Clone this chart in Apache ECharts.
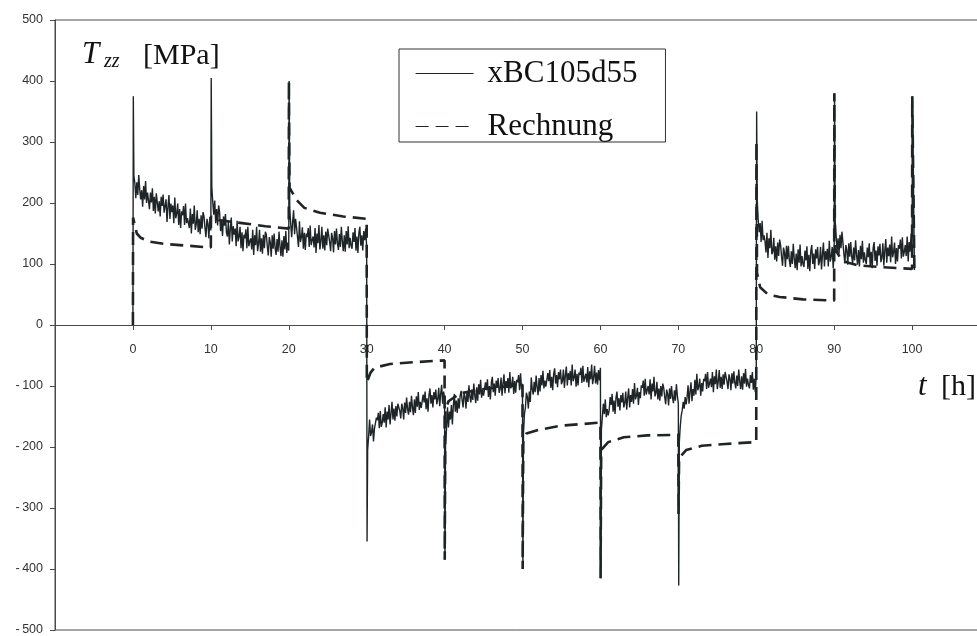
<!DOCTYPE html>
<html>
<head>
<meta charset="utf-8">
<script src="https://cdn.jsdelivr.net/npm/echarts@6/dist/echarts.min.js"></script>
<style>
html,body{margin:0;padding:0;background:#fff;}
#chart{width:977px;height:636px;}
</style>
</head>
<body>
<div id="chart"></div>
<script>
// ---- data ----
const seriesNames = ['xBC105d55', 'Rechnung'];
const sampleStep = 0.125;             // hours between measured samples
const segStart = [0, 10, 20, 30, 40, 50, 60, 70, 80, 90];
const spikePeak = [375, 405, 400, -355, -385, -400, -415, -427, 350, 380];
const meas0 = [245,232,208,234,213,246,222,206, 221,194,228,206,236,200,217,204, 190,217,201,224,187,210,183,216, 217,186,203,178,210,195,214,184,
  182,206,169,194,213,174,199,185, 196,167,209,175,183,199,164,190, 159,186,180,195,164,199,167,175, 177,159,191,150,182,166,196,156,
  165,188,152,174,149,180,158,185, 178,159,144,174,166,142,177,155];
const meas1 = [226,201,181,204,167,190,163,196, 185,154,171,146,178,163,182,152, 145,169,132,157,176,137,162,148, 158,129,171,137,145,161,126,152,
  121,148,142,157,126,161,129,137, 142,124,156,115,147,131,161,121, 133,156,120,142,117,148,126,153, 148,129,114,144,136,112,147,125,
  150,126,115,141,120,153,129,113, 139,112,146,124,154,118,135,122];
const meas2 = [192,166,144,169,188,149,174,160, 157,128,170,136,144,160,125,151, 123,150,144,159,128,163,131,139, 145,127,159,118,150,134,164,124,
  138,161,125,147,122,153,131,158, 155,136,121,151,143,119,154,132, 158,134,123,149,128,161,137,121, 147,120,154,132,162,126,143,130,
  125,152,136,159,122,145,118,151, 161,130,147,122,154,139,158,128];
const meas3 = [-205,-183,-155,-182,-176,-163,-191,-170, -173,-152,-156,-144,-169,-141,-167,-160, -146,-160,-135,-168,-142,-155,-131,-163,
  -145,-126,-155,-137,-157,-133,-150,-129, -126,-141,-153,-129,-136,-155,-127,-144, -119,-138,-147,-126,-143,-116,-135,-148,
  -122,-144,-117,-134,-110,-139,-126,-136, -136,-114,-127,-109,-138,-120,-142,-115, -104,-129,-115,-135,-110,-122,-106,-130,
  -122,-103,-133,-113,-98,-129,-109,-120];
const meas4 = [-192,-170,-135,-168,-142,-155,-131,-163, -132,-113,-142,-124,-144,-120,-137,-116, -108,-123,-135,-111,-118,-137,-109,-126,
  -99,-118,-127,-106,-123,-96,-115,-128, -102,-124,-97,-114,-90,-119,-106,-116, -116,-94,-107,-89,-118,-100,-122,-95,
  -85,-110,-96,-116,-91,-103,-87,-111, -105,-86,-116,-96,-81,-112,-92,-103, -87,-111,-77,-104,-98,-85,-113,-92,
  -111,-90,-94,-82,-107,-79,-105,-98];
const meas5 = [-178,-146,-135,-111,-118,-137,-109,-126, -86,-105,-114,-93,-110,-83,-102,-115, -87,-109,-82,-99,-75,-104,-91,-101,
  -101,-79,-92,-74,-103,-85,-107,-80, -71,-96,-82,-102,-77,-89,-73,-97, -92,-73,-103,-83,-68,-99,-79,-90,
  -75,-99,-65,-92,-86,-73,-101,-80, -99,-78,-82,-70,-95,-67,-93,-86, -80,-94,-69,-102,-76,-89,-65,-97,
  -86,-67,-96,-78,-98,-74,-91,-70];
const meas6 = [-172,-150,-129,-146,-122,-151,-138,-148, -140,-118,-131,-113,-142,-124,-146,-119, -109,-134,-120,-140,-115,-127,-111,-135,
  -128,-109,-139,-119,-104,-135,-115,-126, -105,-129,-95,-122,-116,-103,-131,-110, -120,-99,-103,-91,-116,-88,-114,-107,
  -100,-114,-89,-122,-96,-109,-85,-117, -112,-93,-122,-104,-124,-100,-117,-96, -103,-118,-130,-106,-113,-132,-104,-121,
  -100,-119,-128,-107,-124,-97,-116,-129];
const meas7 = [-192,-166,-148,-140,-126,-137,-118,-130, -118,-99,-129,-109,-94,-125,-105,-116, -90,-114,-80,-107,-101,-88,-116,-95,
  -109,-88,-92,-80,-105,-77,-103,-96, -88,-102,-77,-110,-84,-97,-73,-105, -93,-74,-103,-85,-105,-81,-98,-77,
  -78,-93,-105,-81,-88,-107,-79,-96, -76,-95,-104,-83,-100,-73,-92,-105, -84,-106,-79,-96,-72,-101,-88,-98,
  -104,-82,-95,-77,-106,-88,-110,-83];
const meas8 = [205,172,152,167,136,171,139,147, 137,119,151,110,142,126,156,116, 120,143,107,129,104,135,113,140, 131,112,97,127,119,95,130,108,
  130,106,95,121,100,133,109,93, 117,90,124,102,132,96,113,100, 95,122,106,129,92,115,88,121, 131,100,117,92,124,109,128,98,
  104,128,91,116,135,96,121,107, 125,96,138,104,112,128,93,119];
const meas9 = [172,146,120,142,117,148,126,153, 135,116,101,131,123,99,134,112, 136,112,101,127,106,139,115,99, 123,96,130,108,138,102,119,106,
  100,127,111,134,97,120,93,126, 136,105,122,97,129,114,133,103, 110,134,97,122,141,102,127,113, 132,103,145,111,119,135,100,126,
  104,131,125,140,109,144,112,120, 131,113,145,104,136,120,150,110];
const finalT = [100.05, 100.3];
const finalV = [375, 90];

const calcT = [0,0.02,0.5,1,2,4,7,10, 10.02,11,14,17,20, 20.02,20.1,21,22,24,27,30, 30.02,30.5,31,33,36,40,
  40.02,40.1,40.5,42,45,50, 50.02,50.1,50.5,52,55,60, 60.02,60.1,61,63,66,70, 70.02,70.1,71,73,76,80,
  80.02,80.1,80.5,81.5,83,86,90, 90.02,90.1,91,93,96,100, 100.02,100.3];
const calcV = [0,176,150,143,137,133,130,127, 178,172,167,162,158, 400,225,205,192,184,178,174, -94,-78,-70,-64,-61,-58,
  -385,-140,-125,-112,-105,-98, -400,-190,-178,-172,-165,-160, -415,-205,-192,-184,-181,-180, -310,-218,-205,-198,-195,-192,
  300,85,62,50,46,42,40, 380,125,105,98,95,92, 375,90];

// ---- build series data ----
const measSegs = [meas0, meas1, meas2, meas3, meas4, meas5, meas6, meas7, meas8, meas9];
const measData = [];
let prev = 0;
measSegs.forEach((seg, k) => {
  const s = segStart[k];
  measData.push([s, prev]);
  measData.push([s + 0.05, spikePeak[k]]);
  seg.forEach((v, i) => measData.push([s + sampleStep * (i + 1), v]));
  prev = seg[seg.length - 1];
});
finalT.forEach((t, i) => measData.push([t, finalV[i]]));
const calcData = calcT.map((t, i) => [t, calcV[i]]);

const chart = echarts.init(document.getElementById('chart'), null, {renderer: 'canvas'});
const axisCol = '#4a4a4a';
const lineCol = '#1f2527';
const labelFont = {color: '#333', fontFamily: 'Liberation Sans', fontSize: 12.5};
chart.setOption({
  animation: false,
  backgroundColor: '#ffffff',
  grid: {left: 55, top: 20, width: 935, height: 610, show: true, borderColor: axisCol, borderWidth: 1,
    containLabel: false, outerBoundsMode: 'none'},
  xAxis: [{
    type: 'value', min: -10, max: 110, interval: 10,
    axisLine: {show: true, onZero: true, lineStyle: {color: axisCol, width: 1}},
    axisTick: {show: true, inside: false, length: 5, lineStyle: {color: axisCol}},
    axisLabel: {show: false},
    splitLine: {show: false}
  }, {
    type: 'value', min: -10, max: 110, interval: 10, position: 'bottom', offset: -306,
    axisLine: {show: false, onZero: false},
    axisTick: {show: false},
    axisLabel: Object.assign({margin: 19, formatter: v => (v < 0 || v > 100) ? '' : String(v)}, labelFont),
    splitLine: {show: false}
  }],
  yAxis: {
    type: 'value', min: -500, max: 500, interval: 100,
    axisLine: {show: true, onZero: false, lineStyle: {color: axisCol, width: 1}},
    axisTick: {show: true, inside: false, length: 5, lineStyle: {color: axisCol}},
    axisLabel: Object.assign({margin: 12, formatter: v => v < 0 ? '-\u2009' + Math.abs(v) : String(v)}, labelFont),
    splitLine: {show: false}
  },
  legend: {
    orient: 'vertical', left: 399, top: 49,
    data: seriesNames,
    backgroundColor: '#fff',
    borderColor: '#333', borderWidth: 1,
    padding: [9, 28, 0, 16],
    itemGap: 22, itemWidth: 58, itemHeight: 14,
    itemStyle: {opacity: 0},
    lineStyle: {width: 1.2},
    textStyle: {fontFamily: 'Liberation Serif', fontSize: 31, color: '#111', lineHeight: 30, padding: [0, 0, 0, 9]}
  },
  graphic: [
    {type: 'text', x: 82, y: 55, style: {text: 'T', font: 'italic 31px "Liberation Serif"', fill: '#111', verticalAlign: 'middle'}},
    {type: 'text', x: 104, y: 62, style: {text: 'zz', font: 'italic 20px "Liberation Serif"', fill: '#111', verticalAlign: 'middle'}},
    {type: 'text', x: 143, y: 56, style: {text: '[MPa]', font: '30px "Liberation Serif"', fill: '#111', verticalAlign: 'middle'}},
    {type: 'text', x: 918, y: 387, style: {text: 't', font: 'italic 31px "Liberation Serif"', fill: '#111', verticalAlign: 'middle'}},
    {type: 'text', x: 941, y: 387, style: {text: '[h]', font: '30px "Liberation Serif"', fill: '#111', verticalAlign: 'middle'}}
  ],
  series: [
    {name: seriesNames[0], type: 'line', data: measData, symbol: 'none', z: 3,
      lineStyle: {color: lineCol, width: 1.4}, itemStyle: {color: lineCol}},
    {name: seriesNames[1], type: 'line', data: calcData, symbol: 'none', z: 2,
      lineStyle: {color: lineCol, width: 2.6, type: [13, 7]}, itemStyle: {color: lineCol}}
  ]
});
</script>
</body>
</html>
